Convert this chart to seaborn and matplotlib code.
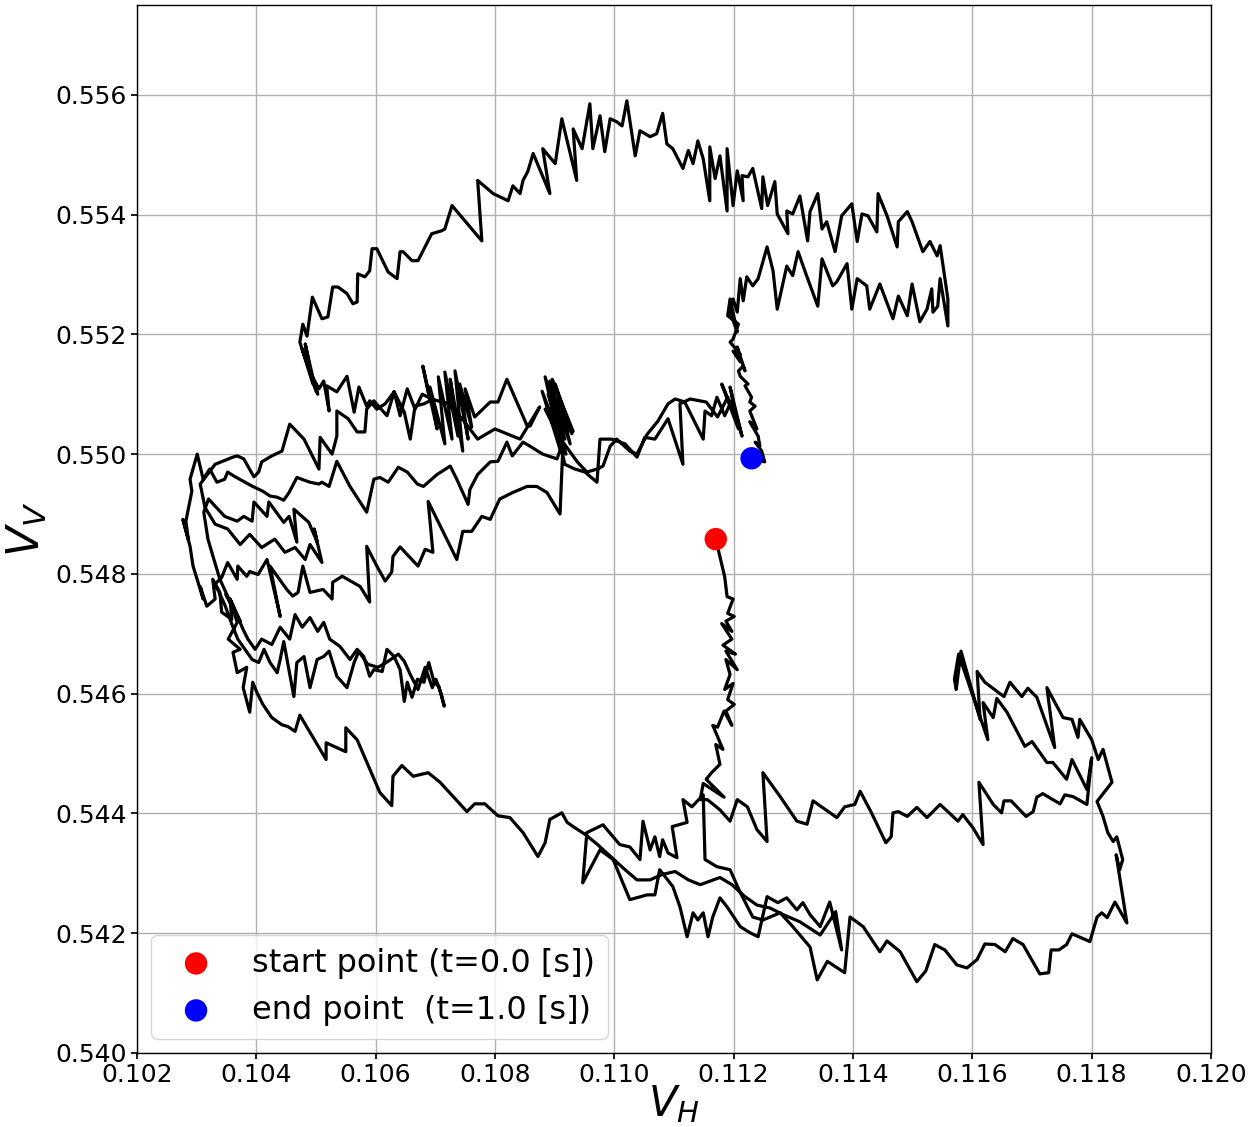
import numpy as np
import pandas as pd
import matplotlib
matplotlib.use("Agg")
import matplotlib.pyplot as plt
import seaborn as sns

# ---- trajectory in the (V_H, V_V) plane, split into consecutive stretches ----
vh_descent = [0.11170, 0.11185, 0.11189, 0.11199, 0.11190, 0.11201, 0.11187, 0.11197, 0.11180, 0.11197,
              0.11182, 0.11203, 0.11187, 0.11206, 0.11187, 0.11194, 0.11185, 0.11199, 0.11190, 0.11201,
              0.11187, 0.11197, 0.11184, 0.11173, 0.11165, 0.11182, 0.11170, 0.11177, 0.11163, 0.11154,
              0.11184, 0.11149, 0.11144]
vv_descent = [0.54858, 0.54795, 0.54762, 0.54758, 0.54734, 0.54729, 0.54721, 0.54704, 0.54717, 0.54691,
              0.54681, 0.54666, 0.54671, 0.54640, 0.54657, 0.54632, 0.54607, 0.54617, 0.54590, 0.54582,
              0.54571, 0.54547, 0.54571, 0.54544, 0.54547, 0.54507, 0.54515, 0.54482, 0.54468, 0.54457,
              0.54427, 0.54450, 0.54423]

vh_lower_right = [0.11156, 0.11177, 0.11194, 0.11206, 0.11223, 0.11239, 0.11256, 0.11249, 0.11278, 0.11306,
                  0.11323, 0.11333, 0.11373, 0.11386, 0.11403, 0.11412, 0.11431, 0.11455, 0.11464, 0.11467,
                  0.11476, 0.11491, 0.11507, 0.11524, 0.11546, 0.11576, 0.11584, 0.11601, 0.11618, 0.11611,
                  0.11635, 0.11649, 0.11653, 0.11665, 0.11690, 0.11702, 0.11708, 0.11718, 0.11747, 0.11755,
                  0.11769, 0.11792]
vv_lower_right = [0.54423, 0.54406, 0.54387, 0.54423, 0.54411, 0.54373, 0.54353, 0.54468, 0.54428, 0.54387,
                  0.54382, 0.54421, 0.54393, 0.54411, 0.54415, 0.54437, 0.54401, 0.54351, 0.54361, 0.54401,
                  0.54403, 0.54395, 0.54410, 0.54393, 0.54415, 0.54387, 0.54398, 0.54376, 0.54348, 0.54452,
                  0.54415, 0.54401, 0.54421, 0.54421, 0.54395, 0.54403, 0.54427, 0.54433, 0.54416, 0.54431,
                  0.54428, 0.54415]

vh_right_up = [0.11800, 0.11792, 0.11767, 0.11758, 0.11735, 0.11725, 0.11700, 0.11688, 0.11658, 0.11641,
               0.11635, 0.11618, 0.11626, 0.11577, 0.11570, 0.11573, 0.11581]
vv_right_up = [0.54493, 0.54440, 0.54490, 0.54457, 0.54485, 0.54485, 0.54520, 0.54512, 0.54569, 0.54592,
               0.54560, 0.54585, 0.54523, 0.54666, 0.54624, 0.54607, 0.54671]

vh_right_down = [0.11613, 0.11608, 0.11621, 0.11653, 0.11663, 0.11683, 0.11693, 0.11708, 0.11738, 0.11725,
                 0.11752, 0.11767, 0.11777, 0.11780, 0.11800, 0.11811, 0.11819, 0.11834,
                 0.11809, 0.11819, 0.11827, 0.11836, 0.11842, 0.11852, 0.11847, 0.11841, 0.11859]
vv_right_down = [0.54557, 0.54637, 0.54619, 0.54595, 0.54619, 0.54595, 0.54609, 0.54594, 0.54510, 0.54610,
                 0.54560, 0.54557, 0.54527, 0.54557, 0.54523, 0.54490, 0.54507, 0.54452,
                 0.54420, 0.54395, 0.54368, 0.54353, 0.54361, 0.54323, 0.54306, 0.54331, 0.54217]

vh_bottom = [0.11839, 0.11834, 0.11826, 0.11817, 0.11809, 0.11797, 0.11767, 0.11758, 0.11745, 0.11732,
             0.11728, 0.11713, 0.11685, 0.11668, 0.11655, 0.11638, 0.11621, 0.11608, 0.11591, 0.11574,
             0.11554, 0.11537, 0.11522, 0.11507, 0.11479, 0.11457, 0.11445, 0.11417, 0.11395, 0.11386]
vv_bottom = [0.54252, 0.54242, 0.54226, 0.54234, 0.54227, 0.54186, 0.54199, 0.54181, 0.54172, 0.54172,
             0.54134, 0.54132, 0.54181, 0.54191, 0.54169, 0.54181, 0.54182, 0.54156, 0.54142, 0.54147,
             0.54172, 0.54181, 0.54137, 0.54119, 0.54169, 0.54187, 0.54169, 0.54211, 0.54227, 0.54134]

vh_bottom_mid = [0.11357, 0.11340, 0.11328, 0.11299, 0.11278, 0.11249, 0.11232, 0.11211, 0.11194, 0.11172,
                 0.11152, 0.11149, 0.11130, 0.11115, 0.11122, 0.11097, 0.11105, 0.11090, 0.11081, 0.11076,
                 0.11068, 0.11060, 0.11048, 0.11043, 0.11026, 0.11009, 0.10981, 0.10954, 0.10947, 0.10976,
                 0.10998, 0.11026, 0.11055, 0.11068, 0.11076, 0.11098, 0.11110, 0.11122, 0.11132, 0.11140,
                 0.11149, 0.11157, 0.11165, 0.11177, 0.11189, 0.11211, 0.11227, 0.11241, 0.11256, 0.11274,
                 0.11289, 0.11306, 0.11316, 0.11328, 0.11345, 0.11361, 0.11381, 0.11371,
                 0.11345, 0.11311, 0.11283, 0.11261, 0.11239, 0.11219, 0.11197, 0.11177, 0.11144, 0.11124,
                 0.11102, 0.11080, 0.11060, 0.11038, 0.11018, 0.10996, 0.10972, 0.10951, 0.10931, 0.10921]
vv_bottom_mid = [0.54153, 0.54122, 0.54177, 0.54211, 0.54234, 0.54222, 0.54227, 0.54268, 0.54306, 0.54311,
                 0.54323, 0.54431, 0.54411, 0.54423, 0.54385, 0.54378, 0.54326, 0.54334, 0.54356, 0.54328,
                 0.54361, 0.54339, 0.54387, 0.54323, 0.54344, 0.54348, 0.54381, 0.54368, 0.54284, 0.54339,
                 0.54323, 0.54256, 0.54264, 0.54264, 0.54306, 0.54278, 0.54244, 0.54194, 0.54234, 0.54222,
                 0.54234, 0.54194, 0.54227, 0.54259, 0.54244, 0.54211, 0.54201, 0.54194, 0.54261, 0.54251,
                 0.54259, 0.54239, 0.54251, 0.54231, 0.54211, 0.54252, 0.54172, 0.54236,
                 0.54197, 0.54219, 0.54231, 0.54242, 0.54247, 0.54261, 0.54281, 0.54293, 0.54281, 0.54289,
                 0.54303, 0.54298, 0.54289, 0.54289, 0.54306, 0.54326, 0.54348, 0.54365, 0.54378, 0.54385]

vh_bottom_left = [0.10912, 0.10892, 0.10884, 0.10872, 0.10847, 0.10825, 0.10805, 0.10783, 0.10766, 0.10753,
                  0.10708, 0.10688, 0.10663, 0.10644, 0.10629, 0.10627, 0.10607, 0.10569, 0.10550, 0.10550,
                  0.10517, 0.10517, 0.10473, 0.10465, 0.10453, 0.10443, 0.10426, 0.10411, 0.10401, 0.10394]
vv_bottom_left = [0.54401, 0.54390, 0.54351, 0.54328, 0.54368, 0.54393, 0.54396, 0.54416, 0.54416, 0.54403,
                  0.54452, 0.54468, 0.54462, 0.54480, 0.54462, 0.54413, 0.54435, 0.54523, 0.54543, 0.54503,
                  0.54518, 0.54490, 0.54564, 0.54537, 0.54545, 0.54548, 0.54560, 0.54582, 0.54602, 0.54619]

vh_left_up = [0.10389, 0.10378, 0.10384, 0.10368, 0.10361, 0.10373, 0.10353, 0.10368, 0.10356, 0.10359,
              0.10342, 0.10339, 0.10327, 0.10331, 0.10317, 0.10306, 0.10311, 0.10294, 0.10289, 0.10277,
              0.10286, 0.10282, 0.10292, 0.10289, 0.10301]
vv_left_up = [0.54569, 0.54610, 0.54644, 0.54635, 0.54669, 0.54674, 0.54691, 0.54719, 0.54758, 0.54724,
              0.54736, 0.54769, 0.54791, 0.54758, 0.54746, 0.54779, 0.54758, 0.54813, 0.54846, 0.54891,
              0.54858, 0.54888, 0.54938, 0.54958, 0.55000]

vh_middle = [0.10311, 0.10322, 0.10334, 0.10347, 0.10352, 0.10363, 0.10394, 0.10411, 0.10423, 0.10435,
             0.10446, 0.10455, 0.10468, 0.10490, 0.10505, 0.10510, 0.10522, 0.10535, 0.10557, 0.10585,
             0.10597, 0.10607, 0.10621, 0.10638, 0.10653, 0.10670, 0.10680, 0.10703, 0.10725, 0.10736,
             0.10755, 0.10758, 0.10771, 0.10792, 0.10805, 0.10820, 0.10829, 0.10847, 0.10859, 0.10880,
             0.10904, 0.10914, 0.10938, 0.10954, 0.10971, 0.10981, 0.10993, 0.11004, 0.11026, 0.11038,
             0.11055, 0.11073, 0.11090, 0.11102, 0.11118, 0.11149, 0.11152, 0.11163, 0.11172, 0.11185,
             0.11194, 0.11180, 0.11208, 0.11194, 0.11214]
vv_middle = [0.54958, 0.54975, 0.54953, 0.54958, 0.54970, 0.54963, 0.54946, 0.54938, 0.54930, 0.54928,
             0.54923, 0.54936, 0.54961, 0.54953, 0.54950, 0.54953, 0.54946, 0.54988, 0.54946, 0.54903,
             0.54958, 0.54961, 0.54953, 0.54978, 0.54970, 0.54950, 0.54946, 0.54966, 0.54980, 0.54958,
             0.54916, 0.54941, 0.54966, 0.54987, 0.54988, 0.55020, 0.54997, 0.55020, 0.55013, 0.55000,
             0.54992, 0.55020, 0.54987, 0.54970, 0.54975, 0.54980, 0.55013, 0.55025, 0.55005, 0.55000,
             0.55033, 0.55055, 0.55084, 0.55092, 0.55087, 0.55025, 0.55072, 0.55064, 0.55095, 0.55064,
             0.55084, 0.55117, 0.55042, 0.55112, 0.55030]

vh_middle_back = [0.11206, 0.11190, 0.11173, 0.11154, 0.11127, 0.11110, 0.11115, 0.11090, 0.11068, 0.11051,
                  0.11038, 0.11018, 0.10996, 0.10976, 0.10971, 0.10959, 0.10951, 0.10934, 0.10917,
                  0.10884, 0.10917, 0.10892, 0.10926, 0.10901, 0.10929, 0.10889, 0.10919, 0.10879, 0.10909,
                  0.10896, 0.10931, 0.10884, 0.10914]
vv_middle_back = [0.55059, 0.55095, 0.55062, 0.55087, 0.55092, 0.55084, 0.54983, 0.55059, 0.55025, 0.55028,
                  0.54995, 0.55017, 0.55025, 0.55025, 0.54953, 0.54963, 0.54970, 0.54975, 0.54983,
                  0.55129, 0.55025, 0.55122, 0.55017, 0.55117, 0.55034, 0.55100, 0.55000, 0.55105, 0.55008,
                  0.55125, 0.55038, 0.55075, 0.55017]

vh_band_548 = [0.10909, 0.10887, 0.10870, 0.10854, 0.10830, 0.10808, 0.10792, 0.10778, 0.10761, 0.10746,
               0.10736, 0.10688, 0.10696, 0.10683, 0.10671, 0.10641, 0.10629, 0.10627, 0.10616, 0.10602,
               0.10585, 0.10590, 0.10574, 0.10544, 0.10528, 0.10527, 0.10512, 0.10490, 0.10478, 0.10470,
               0.10461, 0.10451, 0.10423, 0.10440, 0.10418, 0.10403, 0.10389, 0.10384, 0.10369, 0.10368,
               0.10352, 0.10342, 0.10331]
vv_band_548 = [0.54900, 0.54936, 0.54946, 0.54946, 0.54936, 0.54925, 0.54891, 0.54896, 0.54871, 0.54871,
               0.54824, 0.54921, 0.54836, 0.54841, 0.54813, 0.54845, 0.54829, 0.54803, 0.54788, 0.54813,
               0.54846, 0.54753, 0.54779, 0.54796, 0.54786, 0.54758, 0.54774, 0.54769, 0.54813, 0.54769,
               0.54763, 0.54774, 0.54813, 0.54729, 0.54824, 0.54799, 0.54804, 0.54796, 0.54813, 0.54791,
               0.54819, 0.54794, 0.54783]

vh_band_546 = [0.10347, 0.10359, 0.10369, 0.10381, 0.10393, 0.10404, 0.10413, 0.10423, 0.10435, 0.10440,
               0.10446, 0.10463, 0.10468, 0.10480, 0.10490, 0.10502, 0.10513, 0.10522, 0.10530, 0.10535,
               0.10552, 0.10564, 0.10572, 0.10580, 0.10590, 0.10597, 0.10611, 0.10619, 0.10631, 0.10641,
               0.10648, 0.10653, 0.10661, 0.10670, 0.10681, 0.10689, 0.10698, 0.10706, 0.10715,
               0.10710, 0.10701, 0.10695, 0.10683, 0.10671, 0.10658, 0.10648, 0.10638, 0.10621, 0.10604,
               0.10587, 0.10569, 0.10557, 0.10540, 0.10523, 0.10513, 0.10503, 0.10490, 0.10477, 0.10465,
               0.10456, 0.10440, 0.10426, 0.10409, 0.10398, 0.10386,
               0.10378, 0.10356, 0.10373, 0.10349, 0.10366, 0.10339, 0.10329, 0.10319, 0.10312]
vv_band_546 = [0.54749, 0.54716, 0.54691, 0.54674, 0.54657, 0.54652, 0.54674, 0.54652, 0.54635, 0.54657,
               0.54687, 0.54595, 0.54652, 0.54662, 0.54610, 0.54657, 0.54662, 0.54671, 0.54645, 0.54629,
               0.54610, 0.54652, 0.54671, 0.54662, 0.54629, 0.54640, 0.54637, 0.54674, 0.54662, 0.54640,
               0.54587, 0.54619, 0.54594, 0.54624, 0.54619, 0.54652, 0.54619, 0.54612, 0.54579,
               0.54599, 0.54624, 0.54610, 0.54644, 0.54607, 0.54632, 0.54654, 0.54666, 0.54654, 0.54644,
               0.54649, 0.54674, 0.54657, 0.54679, 0.54691, 0.54719, 0.54704, 0.54727, 0.54711, 0.54732,
               0.54691, 0.54711, 0.54682, 0.54691, 0.54674, 0.54691,
               0.54707, 0.54758, 0.54721, 0.54766, 0.54732, 0.54791, 0.54824, 0.54858, 0.54903]

vh_band_5485 = [0.10320, 0.10347, 0.10368, 0.10379, 0.10393, 0.10396, 0.10418, 0.10421, 0.10446, 0.10455,
                0.10468, 0.10463, 0.10488, 0.10502, 0.10497, 0.10505, 0.10510,
                0.10490, 0.10482, 0.10465, 0.10448, 0.10431, 0.10409, 0.10389, 0.10373, 0.10352, 0.10331,
                0.10314, 0.10306, 0.10331, 0.10361]
vv_band_5485 = [0.54925, 0.54896, 0.54888, 0.54896, 0.54888, 0.54920, 0.54896, 0.54920, 0.54886, 0.54896,
                0.54853, 0.54908, 0.54886, 0.54853, 0.54875, 0.54841, 0.54819,
                0.54849, 0.54824, 0.54844, 0.54836, 0.54858, 0.54844, 0.54866, 0.54849, 0.54875, 0.54883,
                0.54911, 0.54950, 0.54983, 0.54995]

vh_band_5505 = [0.10368, 0.10379, 0.10396, 0.10404, 0.10409, 0.10426, 0.10443, 0.10456, 0.10480, 0.10505,
                0.10507, 0.10527, 0.10535, 0.10535, 0.10554, 0.10569, 0.10582, 0.10585, 0.10597, 0.10619,
                0.10631, 0.10648, 0.10658, 0.10666, 0.10681, 0.10691,
                0.10679, 0.10703, 0.10691, 0.10716, 0.10705, 0.10728, 0.10716, 0.10738, 0.10725, 0.10746,
                0.10733, 0.10755, 0.10741, 0.10761, 0.10750, 0.10766,
                0.10792, 0.10805, 0.10820, 0.10854, 0.10859, 0.10875,
                0.10842, 0.10800, 0.10771, 0.10745, 0.10721, 0.10694]
vv_band_5505 = [0.54997, 0.54992, 0.54962, 0.54970, 0.54987, 0.54997, 0.55005, 0.55050, 0.55025, 0.54975,
                0.55028, 0.55000, 0.55030, 0.55072, 0.55059, 0.55037, 0.55037, 0.55075, 0.55089, 0.55064,
                0.55104, 0.55070, 0.55025, 0.55080, 0.55084, 0.55089,
                0.55147, 0.55042, 0.55112, 0.55017, 0.55129, 0.55025, 0.55137, 0.55030, 0.55125, 0.55005,
                0.55139, 0.55025, 0.55117, 0.55045, 0.55109, 0.55062,
                0.55087, 0.55087, 0.55125, 0.55047, 0.55047, 0.55079,
                0.55025, 0.55042, 0.55025, 0.55059, 0.55084, 0.55092]

vh_upper_left = [0.10678, 0.10666, 0.10653, 0.10641, 0.10631, 0.10616, 0.10602, 0.10590, 0.10585, 0.10572,
                 0.10564, 0.10552, 0.10535, 0.10518, 0.10522, 0.10513, 0.10505, 0.10490,
                 0.10503, 0.10477, 0.10500, 0.10482, 0.10495, 0.10473]
vv_upper_left = [0.55100, 0.55075, 0.55109, 0.55064, 0.55104, 0.55084, 0.55075, 0.55089, 0.55080, 0.55112,
                 0.55070, 0.55130, 0.55104, 0.55114, 0.55072, 0.55122, 0.55109, 0.55137,
                 0.55100, 0.55176, 0.55105, 0.55184, 0.55117, 0.55187]

vh_top = [0.10478, 0.10485, 0.10494, 0.10510, 0.10520, 0.10528, 0.10537, 0.10552, 0.10562, 0.10569,
          0.10570, 0.10582, 0.10590, 0.10594, 0.10602, 0.10621, 0.10636, 0.10641, 0.10646, 0.10661,
          0.10671, 0.10694, 0.10711, 0.10716, 0.10728, 0.10778, 0.10771, 0.10797, 0.10822, 0.10830,
          0.10842, 0.10847, 0.10855, 0.10864, 0.10892, 0.10880, 0.10901, 0.10912, 0.10937, 0.10931,
          0.10946, 0.10959, 0.10964, 0.10976, 0.10984, 0.10993, 0.11004, 0.11013, 0.11021, 0.11035,
          0.11043, 0.11060, 0.11071, 0.11081, 0.11088, 0.11098, 0.11115, 0.11124, 0.11132, 0.11140,
          0.11149, 0.11160, 0.11160, 0.11169, 0.11177, 0.11189, 0.11189, 0.11199, 0.11206, 0.11216,
          0.11214, 0.11224, 0.11232, 0.11247, 0.11249, 0.11257, 0.11269, 0.11273, 0.11291, 0.11289,
          0.11299, 0.11311, 0.11324, 0.11328, 0.11341, 0.11348, 0.11356, 0.11370, 0.11381, 0.11398,
          0.11407, 0.11415, 0.11425, 0.11440, 0.11442, 0.11457, 0.11474, 0.11476, 0.11491, 0.11499,
          0.11517, 0.11529, 0.11541, 0.11546, 0.11554, 0.11559]
vv_top = [0.55217, 0.55197, 0.55262, 0.55226, 0.55229, 0.55279, 0.55279, 0.55268, 0.55251, 0.55254,
          0.55301, 0.55296, 0.55306, 0.55343, 0.55343, 0.55304, 0.55293, 0.55338, 0.55338, 0.55323,
          0.55323, 0.55368, 0.55373, 0.55376, 0.55415, 0.55356, 0.55457, 0.55435, 0.55423, 0.55448,
          0.55435, 0.55457, 0.55472, 0.55502, 0.55435, 0.55510, 0.55485, 0.55560, 0.55457, 0.55543,
          0.55510, 0.55585, 0.55510, 0.55565, 0.55505, 0.55560, 0.55555, 0.55548, 0.55590, 0.55498,
          0.55540, 0.55530, 0.55535, 0.55569, 0.55518, 0.55510, 0.55477, 0.55507, 0.55485, 0.55523,
          0.55493, 0.55423, 0.55513, 0.55460, 0.55498, 0.55406, 0.55510, 0.55415, 0.55473, 0.55423,
          0.55465, 0.55463, 0.55477, 0.55410, 0.55463, 0.55415, 0.55455, 0.55401, 0.55368, 0.55406,
          0.55401, 0.55431, 0.55356, 0.55405, 0.55435, 0.55376, 0.55388, 0.55338, 0.55398, 0.55418,
          0.55355, 0.55401, 0.55398, 0.55371, 0.55435, 0.55398, 0.55346, 0.55388, 0.55405, 0.55388,
          0.55338, 0.55355, 0.55331, 0.55348, 0.55293, 0.55259]

vh_top_return = [0.11559, 0.11546, 0.11542, 0.11534, 0.11532, 0.11524, 0.11512, 0.11499, 0.11491, 0.11476,
                 0.11467, 0.11445, 0.11428, 0.11423, 0.11407, 0.11398, 0.11390, 0.11373, 0.11366, 0.11348,
                 0.11341, 0.11320, 0.11308, 0.11299, 0.11289, 0.11273, 0.11266, 0.11256, 0.11241, 0.11232,
                 0.11222, 0.11216, 0.11211, 0.11206, 0.11199, 0.11194]
vv_top_return = [0.55214, 0.55293, 0.55247, 0.55237, 0.55276, 0.55242, 0.55221, 0.55284, 0.55231, 0.55264,
                 0.55226, 0.55284, 0.55242, 0.55281, 0.55293, 0.55242, 0.55318, 0.55288, 0.55281, 0.55326,
                 0.55247, 0.55304, 0.55338, 0.55298, 0.55314, 0.55242, 0.55306, 0.55346, 0.55293, 0.55281,
                 0.55296, 0.55256, 0.55293, 0.55237, 0.55259, 0.55237]

vh_final = [0.11206, 0.11194, 0.11190, 0.11208, 0.11199, 0.11194, 0.11211, 0.11199, 0.11211, 0.11206,
            0.11219, 0.11216, 0.11208, 0.11211, 0.11224, 0.11219, 0.11230, 0.11227, 0.11236, 0.11227,
            0.11239, 0.11227, 0.11241, 0.11244, 0.11236, 0.11247, 0.11252, 0.11230]
vv_final = [0.55204, 0.55259, 0.55231, 0.55217, 0.55192, 0.55187, 0.55167, 0.55172, 0.55154, 0.55179,
            0.55139, 0.55147, 0.55139, 0.55130, 0.55117, 0.55114, 0.55095, 0.55087, 0.55080, 0.55072,
            0.55042, 0.55054, 0.55030, 0.55013, 0.55020, 0.55005, 0.54987, 0.54993]

segments = [
    (vh_descent, vv_descent), (vh_lower_right, vv_lower_right), (vh_right_up, vv_right_up),
    (vh_right_down, vv_right_down), (vh_bottom, vv_bottom), (vh_bottom_mid, vv_bottom_mid),
    (vh_bottom_left, vv_bottom_left), (vh_left_up, vv_left_up), (vh_middle, vv_middle),
    (vh_middle_back, vv_middle_back), (vh_band_548, vv_band_548), (vh_band_546, vv_band_546),
    (vh_band_5485, vv_band_5485), (vh_band_5505, vv_band_5505), (vh_upper_left, vv_upper_left),
    (vh_top, vv_top), (vh_top_return, vv_top_return), (vh_final, vv_final),
]
vh = np.concatenate([np.asarray(a) for a, _ in segments])
vv = np.concatenate([np.asarray(b) for _, b in segments])
traj = pd.DataFrame({"V_H": vh, "V_V": vv, "step": np.arange(len(vh))})

start_label = "start point (t=0.0 [s])"
end_label = "end point  (t=1.0 [s])"

sns.set_theme(style="ticks")
plt.rcParams["font.family"] = ["DejaVu Sans"]
plt.rcParams["mathtext.fontset"] = "dejavusans"
for key in ("text.color", "axes.labelcolor", "xtick.color", "ytick.color"):
    plt.rcParams[key] = "black"

fig = plt.figure(figsize=(12.53, 11.27), dpi=100)
ax = fig.add_axes([0.1093, 0.0657, 0.8572, 0.9299])

sns.lineplot(data=traj, x="V_H", y="V_V", sort=False, estimator=None,
             color="black", linewidth=2.3, ax=ax, zorder=2)
sns.scatterplot(x=[vh[0]], y=[vv[0]], color="red", s=260, edgecolor="none",
                label=start_label, ax=ax, zorder=3)
sns.scatterplot(x=[vh[-1]], y=[vv[-1]], color="blue", s=260, edgecolor="none",
                label=end_label, ax=ax, zorder=3)

xt = np.arange(0.102, 0.12001, 0.002)
yt = np.arange(0.540, 0.55601, 0.002)
ax.set_xlim(0.102, 0.120)
ax.set_ylim(0.540, 0.5575)
ax.set_xticks(xt)
ax.set_yticks(yt)
ax.set_xticklabels([f"{t:.3f}" for t in xt])
ax.set_yticklabels([f"{t:.3f}" for t in yt])
ax.tick_params(labelsize=18, colors="black", length=4)
ax.grid(True, color="#b0b0b0", linewidth=1.0)
ax.set_axisbelow(True)
for sp in ax.spines.values():
    sp.set_color("black")
    sp.set_linewidth(1.0)

ax.set_xlabel("$V_H$", fontsize=30, labelpad=-3)
ax.set_ylabel("$V_V$", fontsize=32, labelpad=4)

leg = ax.legend(loc="lower left", fontsize=23, frameon=True, borderaxespad=0.45,
                handletextpad=0.75, labelspacing=0.5, borderpad=0.4)
leg.get_frame().set_edgecolor("#cccccc")

fig.savefig("out.png", dpi=100)
